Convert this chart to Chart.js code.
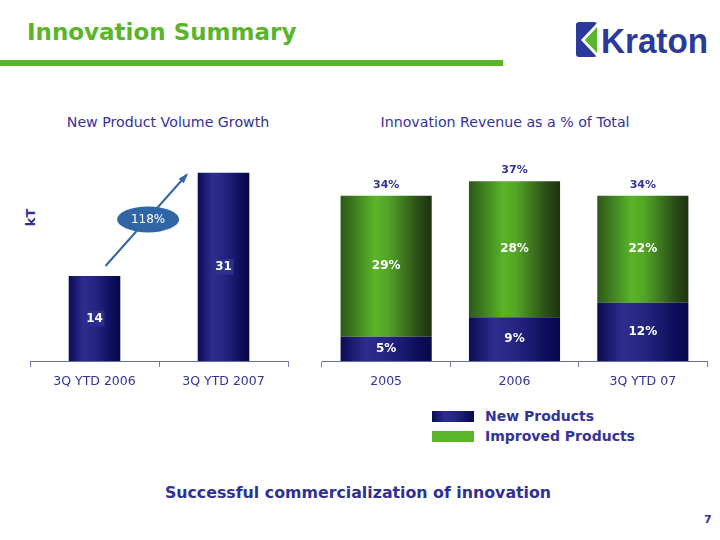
<!DOCTYPE html>
<html lang="en">
<head>
  <meta charset="UTF-8">
  <title>Innovation Summary</title>
  <script src="https://cdn.jsdelivr.net/npm/chart.js"></script>
  <style>
    body {
      margin: 0;
      background: #ffffff;
      font-family: "DejaVu Sans", Verdana, sans-serif;
      width: 720px;
      height: 540px;
      position: relative;
      overflow: hidden;
    }

    .page-title {
      position: absolute;
      left: 27px;
      top: 19px;
      font-size: 23px;
      font-weight: bold;
      color: #5ab52a;
    }

    .rule {
      position: absolute;
      left: 0;
      top: 60px;
      width: 503px;
      height: 6px;
      background: #5ab52a;
    }

    .logo {
      position: absolute;
      left: 570px;
      top: 15px;
    }

    .chart-title {
      position: absolute;
      top: 114px;
      font-size: 14.2px;
      color: #333399;
      white-space: nowrap;
      transform: translateX(-50%);
    }

    .kt {
      position: absolute;
      left: 22px;
      top: 210px;
      font-size: 13px;
      font-weight: bold;
      color: #333399;
      transform: rotate(-90deg);
    }

    .box {
      position: absolute;
    }

    .legend {
      position: absolute;
      left: 432px;
      top: 406px;
    }

    .legend-row {
      display: flex;
      align-items: center;
      height: 20px;
      font-size: 14px;
      font-weight: bold;
      color: #333399;
    }

    .swatch {
      width: 42px;
      height: 11px;
      margin-right: 11px;
    }

    .footer {
      position: absolute;
      left: 0;
      width: 716px;
      top: 483px;
      text-align: center;
      font-size: 15.8px;
      font-weight: bold;
      color: #2e3192;
    }

    .page-num {
      position: absolute;
      left: 704px;
      top: 513px;
      font-size: 11px;
      font-weight: bold;
      color: #333399;
    }
  </style>
</head>
<body>
  <div class="page-title">Innovation Summary</div>
  <div class="rule"></div>
  <svg class="logo" width="145" height="50" viewBox="570 15 145 50">
    <rect x="576" y="22" width="21" height="35" rx="3" fill="#2b3a9a"/>
    <polygon points="597,23 581,40 597,57" fill="#ffffff"/>
    <polygon points="597,27 585,40 597,53" fill="#5ab52a"/>
    <text x="601" y="53" font-family="Liberation Sans, Arial" font-weight="bold" font-size="35" fill="#2b3a9a" textLength="107" lengthAdjust="spacingAndGlyphs">Kraton</text>
  </svg>

  <div class="chart-title" style="left:168px;">New Product Volume Growth</div>
  <div class="chart-title" style="left:505px;">Innovation Revenue as a % of Total</div>
  <div class="kt">kT</div>

  <div class="box" style="left:20px; top:100px; width:290px; height:300px;">
    <canvas id="volumeChart"></canvas>
  </div>
  <div class="box" style="left:310px; top:100px; width:410px; height:300px;">
    <canvas id="revenueChart"></canvas>
  </div>

  <div class="legend" id="legend"></div>

  <div class="footer">Successful commercialization of innovation</div>
  <div class="page-num">7</div>

  <script>
    // left chart: new product volume (kT)
    const volumeLabels = ['3Q YTD 2006', '3Q YTD 2007'];
    const volumeValues = [14, 31];
    const growthLabel = '118%';

    // right chart: innovation revenue as % of total
    const revenueLabels = ['2005', '2006', '3Q YTD 07'];
    const seriesNames = ['New Products', 'Improved Products'];
    const newProducts = [5, 9, 12];
    const improvedProducts = [29, 28, 22];

    const BLUE_STOPS = [[0, '#0b0b55'], [0.28, '#2d2d8f'], [0.55, '#23237f'], [0.85, '#0d0d5c'], [1, '#08084a']];
    const GREEN_STOPS = [[0, '#2c5818'], [0.38, '#5ab52a'], [0.52, '#52a526'], [0.85, '#2a4d17'], [1, '#1c3410']];

    function barGradient(stops, barPct, count, fallback) {
      return function (c) {
        const chart = c.chart;
        const xs = chart.scales && chart.scales.x;
        if (c.type !== 'data' || !xs || !chart.chartArea) return fallback;
        const cx = xs.getPixelForValue(c.dataIndex);
        const w = (xs.width / count) * barPct;
        const g = chart.ctx.createLinearGradient(cx - w / 2, 0, cx + w / 2, 0);
        stops.forEach(s => g.addColorStop(s[0], s[1]));
        return g;
      };
    }

    const xAxis = (fontSize) => ({
      grid: { display: true, drawOnChartArea: false, drawTicks: true, tickLength: 6, color: '#7a7ab0', offset: true },
      border: { display: true, color: '#6a6aa8' },
      ticks: { color: '#333399', font: { family: 'DejaVu Sans', size: fontSize }, padding: 7 }
    });

    // labels inside / above bars
    const volumeLabelPlugin = {
      id: 'volumeLabels',
      afterDatasetsDraw(chart) {
        const ctx = chart.ctx;
        const meta = chart.getDatasetMeta(0);
        ctx.save();
        ctx.font = 'bold 12px "DejaVu Sans"';
        ctx.textAlign = 'center';
        ctx.textBaseline = 'middle';
        meta.data.forEach((bar, i) => {
          const y = (bar.y + bar.base) / 2;
          ctx.fillStyle = '#2c2e90';
          ctx.fillRect(bar.x - 10, y - 8, 20, 16);
          ctx.fillStyle = '#ffffff';
          ctx.fillText(String(volumeValues[i]), bar.x, y);
        });

        // growth arrow from first bar to second bar
        const a = meta.data[0], b = meta.data[1];
        const x0 = a.x + 11, y0 = a.y - 10;
        const x1 = b.x - b.width / 2 - 11, y1 = b.y + 2;
        ctx.strokeStyle = '#3465a4';
        ctx.fillStyle = '#3465a4';
        ctx.lineWidth = 2;
        ctx.beginPath();
        ctx.moveTo(x0, y0);
        ctx.lineTo(x1, y1);
        ctx.stroke();
        const ang = Math.atan2(y1 - y0, x1 - x0);
        ctx.beginPath();
        ctx.moveTo(x1 + 2 * Math.cos(ang), y1 + 2 * Math.sin(ang));
        ctx.lineTo(x1 - 9 * Math.cos(ang - 0.4), y1 - 9 * Math.sin(ang - 0.4));
        ctx.lineTo(x1 - 9 * Math.cos(ang + 0.4), y1 - 9 * Math.sin(ang + 0.4));
        ctx.closePath();
        ctx.fill();

        const mx = (x0 + x1) / 2 + 2, my = (y0 + y1) / 2 - 1;
        ctx.fillStyle = '#3066a6';
        ctx.beginPath();
        ctx.ellipse(mx, my, 31, 13, 0, 0, Math.PI * 2);
        ctx.fill();
        ctx.fillStyle = '#ffffff';
        ctx.font = '12px "DejaVu Sans"';
        ctx.fillText(growthLabel, mx, my);
        ctx.restore();
      }
    };

    const revenueLabelPlugin = {
      id: 'revenueLabels',
      afterDatasetsDraw(chart) {
        const ctx = chart.ctx;
        ctx.save();
        ctx.font = 'bold 12px "DejaVu Sans"';
        ctx.textAlign = 'center';
        ctx.textBaseline = 'middle';
        ctx.fillStyle = '#ffffff';
        chart.data.datasets.forEach((ds, di) => {
          chart.getDatasetMeta(di).data.forEach((bar, i) => {
            ctx.fillText(ds.data[i] + '%', bar.x, (bar.y + bar.base) / 2);
          });
        });
        const top = chart.getDatasetMeta(chart.data.datasets.length - 1).data;
        ctx.fillStyle = '#333399';
        ctx.font = 'bold 11px "DejaVu Sans"';
        top.forEach((bar, i) => {
          ctx.fillText((newProducts[i] + improvedProducts[i]) + '%', bar.x, bar.y - 11);
        });
        ctx.restore();
      }
    };

    new Chart(document.getElementById('volumeChart'), {
      type: 'bar',
      data: {
        labels: volumeLabels,
        datasets: [{
          label: 'Volume (kT)',
          data: volumeValues,
          backgroundColor: barGradient(BLUE_STOPS, 0.4, volumeLabels.length, '#1c1c78'),
          categoryPercentage: 1,
          barPercentage: 0.4
        }]
      },
      options: {
        responsive: true,
        maintainAspectRatio: false,
        animation: false,
        layout: { padding: { left: 10, right: 22, top: 48.5, bottom: 4 } },
        plugins: { legend: { display: false }, tooltip: { enabled: false } },
        scales: {
          x: xAxis(12.5),
          y: { display: false, min: 0, max: 35 }
        }
      },
      plugins: [volumeLabelPlugin]
    });

    new Chart(document.getElementById('revenueChart'), {
      type: 'bar',
      data: {
        labels: revenueLabels,
        datasets: [
          {
            label: seriesNames[0],
            data: newProducts,
            backgroundColor: barGradient(BLUE_STOPS, 0.71, revenueLabels.length, '#1c1c78'),
            categoryPercentage: 1,
            barPercentage: 0.71
          },
          {
            label: seriesNames[1],
            data: improvedProducts,
            backgroundColor: barGradient(GREEN_STOPS, 0.71, revenueLabels.length, '#5ab52a'),
            categoryPercentage: 1,
            barPercentage: 0.71
          }
        ]
      },
      options: {
        responsive: true,
        maintainAspectRatio: false,
        animation: false,
        layout: { padding: { left: 12, right: 13, top: 66.6, bottom: 4 } },
        plugins: { legend: { display: false }, tooltip: { enabled: false } },
        scales: {
          x: Object.assign(xAxis(12.5), { stacked: true }),
          y: { display: false, stacked: true, min: 0, max: 40 }
        }
      },
      plugins: [revenueLabelPlugin]
    });

    // legend built from the series names
    const swatches = [
      'linear-gradient(to right, #0b0b55, #2d2d8f 30%, #23237f 60%, #0d0d5c 90%, #08084a)',
      '#5ab52a'
    ];
    const legend = document.getElementById('legend');
    seriesNames.forEach((name, i) => {
      const row = document.createElement('div');
      row.className = 'legend-row';
      row.innerHTML = '<div class="swatch" style="background:' + swatches[i] + '"></div>' + name;
      legend.appendChild(row);
    });
  </script>
</body>
</html>
